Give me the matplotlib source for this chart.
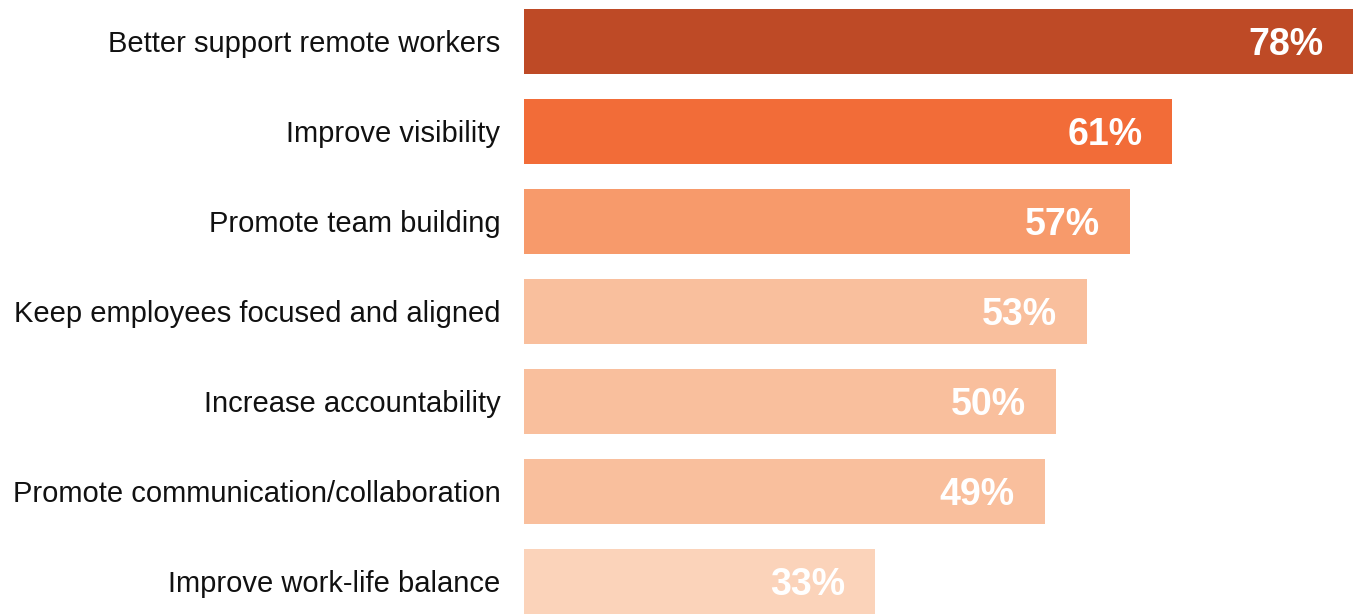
import matplotlib
matplotlib.use("Agg")
import matplotlib.pyplot as plt
from matplotlib.transforms import offset_copy

categories = [
    "Better support remote workers",
    "Improve visibility",
    "Promote team building",
    "Keep employees focused and aligned",
    "Increase accountability",
    "Promote communication/collaboration",
    "Improve work-life balance",
]
values = [78, 61, 57, 53, 50, 49, 33]
colors = ["#BE4A26", "#F26C38", "#F79A6B", "#F9BF9D", "#F9BF9D", "#F9BF9D", "#FBD3BA"]

plt.rcParams['font.family'] = ['Liberation Sans', 'DejaVu Sans']

W, H = 1359, 614
fig = plt.figure(figsize=(W / 100, H / 100), dpi=100)
ax = fig.add_axes([524 / W, 0, 1 - 524 / W, 1])

ypos = list(range(len(categories)))
ax.barh(ypos, values, height=0.715, color=colors)
ax.set_xlim(0, (W - 524) / 10.63)
ax.set_ylim((H - 41.5) / 90, -41.5 / 90)

ax.set_yticks(ypos)
ax.set_yticklabels(categories, fontsize=21, color="#111111")
ax.tick_params(axis="y", length=0, pad=17)
ax.set_xticks([])
for s in ax.spines.values():
    s.set_visible(False)

tr = offset_copy(ax.transData, fig=fig, x=-30 * 72 / 100, y=-13.5 * 72 / 100, units="points")
for y, v in zip(ypos, values):
    ax.text(v, y, f"{v}%", transform=tr, ha="right", va="baseline",
            fontsize=27, fontweight="bold", color="white")

fig.savefig("out.png", dpi=100)
